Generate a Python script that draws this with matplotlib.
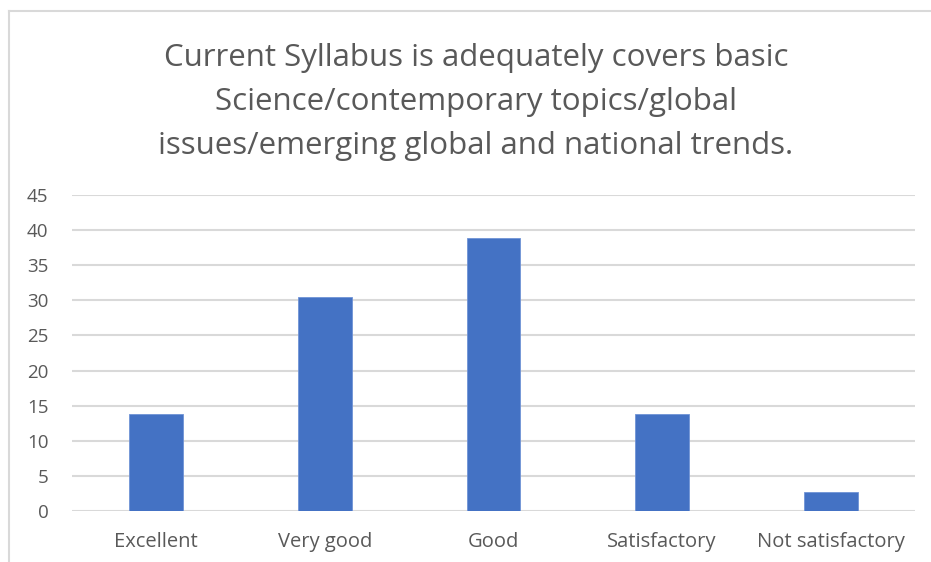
import matplotlib.pyplot as plt

categories = ["Excellent", "Very good", "Good", "Satisfactory", "Not satisfactory"]
values = [13.8, 30.5, 38.9, 13.8, 2.7]
yticks = [0, 5, 10, 15, 20, 25, 30, 35, 40, 45]

title = ("Current Syllabus is adequately covers basic\n"
         "Science/contemporary topics/global\n"
         "issues/emerging global and national trends.")

plt.rcParams["font.family"] = ["Open Sans", "DejaVu Sans"]

W, H = 931, 562
fig = plt.figure(figsize=(W / 100, H / 100), dpi=100)

# chart frame (top and left edges visible, the rest is cut off)
fig.add_artist(plt.Line2D([9 / W, 9 / W], [0, 1 - 11 / H], color="#d9d9d9", lw=1.5))
fig.add_artist(plt.Line2D([9 / W, 1], [1 - 11 / H, 1 - 11 / H], color="#d9d9d9", lw=1.5))

ax = fig.add_axes([72 / W, 1 - 511 / H, (915 - 72) / W, (511 - 195) / H])
x = range(len(categories))
ax.bar(x, values, width=0.32, color="#4472C4", edgecolor="#6f93d6", linewidth=0.6, zorder=3)
ax.set_xlim(-0.5, 4.5)
ax.set_ylim(0, 45)
ax.set_yticks(yticks)
ax.set_xticks(list(x))
ax.set_xticklabels(categories)
ax.yaxis.grid(True, color="#d9d9d9", lw=1.5)
ax.set_axisbelow(True)
for s in ax.spines.values():
    s.set_visible(False)
ax.tick_params(length=0, colors="#595959")
ax.tick_params(axis="y", pad=17, labelsize=13.5)
ax.tick_params(axis="x", pad=15, labelsize=14.5)
for lbl in ax.get_yticklabels():
    lbl.set_horizontalalignment("right")

fig.text(476 / W, 1 - 102 / H, title, ha="center", va="center",
         fontsize=22.5, color="#595959", linespacing=1.62)

fig.savefig("out.png", dpi=100)
